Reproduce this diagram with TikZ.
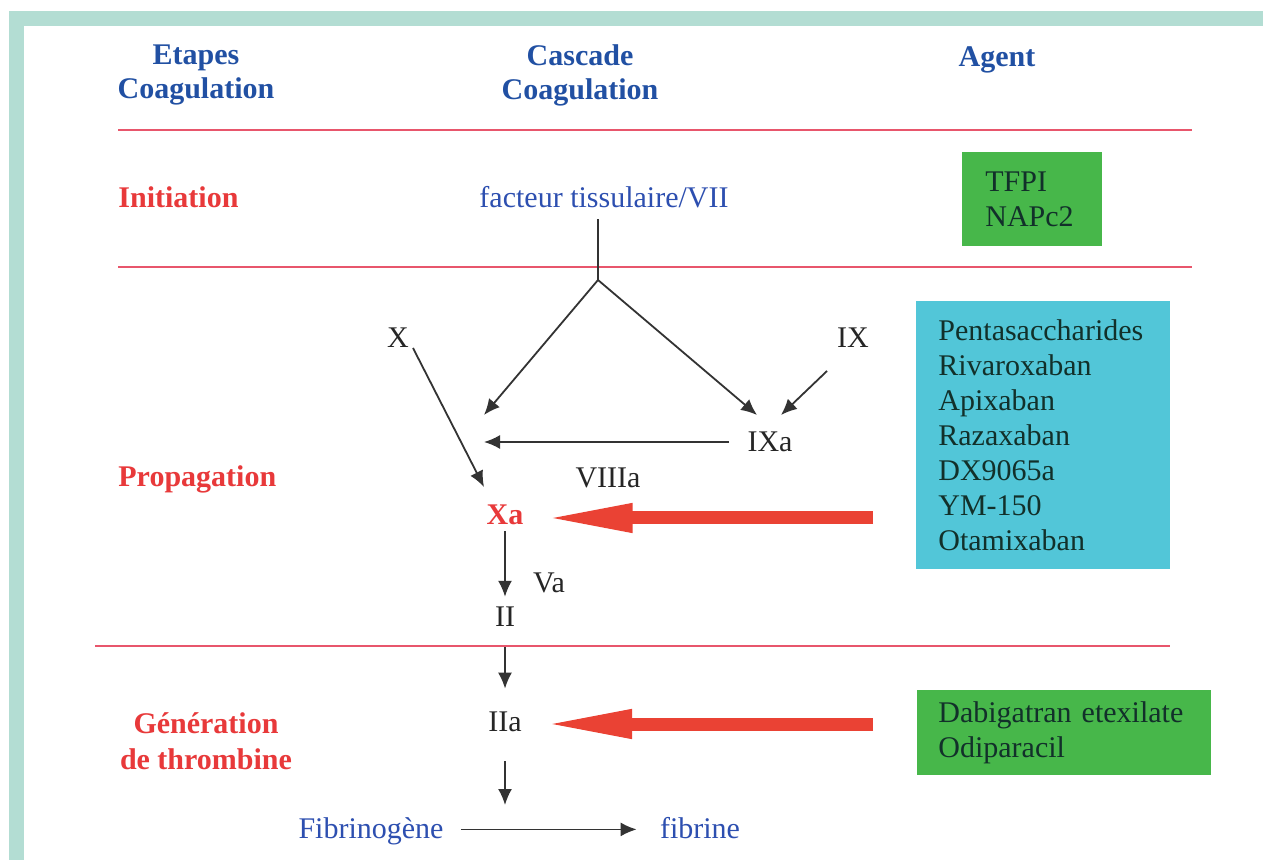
\documentclass[tikz,border=0pt]{standalone}
\usepackage{fontspec}
\setmainfont{Liberation Serif}
\usetikzlibrary{arrows.meta,positioning}

\definecolor{frameteal}{HTML}{B3DDD3}
\definecolor{headblue}{HTML}{2150A3}
\definecolor{txtblue}{HTML}{2D4FB0}
\definecolor{stepred}{HTML}{E8393A}
\definecolor{rulered}{HTML}{E8566C}
\definecolor{boxgreen}{HTML}{47B74A}
\definecolor{boxcyan}{HTML}{52C6D8}
\definecolor{boxtext}{HTML}{12302A}
\definecolor{bigred}{HTML}{EA4234}

\begin{document}
\begin{tikzpicture}[x=0.5pt,y=-0.5pt,
      every node/.style={inner sep=0pt,font=\fontsize{15}{17}\selectfont},
      colhead/.style={text=headblue,font=\fontsize{15}{17}\selectfont\bfseries,align=center},
      stage/.style={text=stepred,font=\fontsize{15}{18}\selectfont\bfseries},
      factor/.style={text=black!85},
      bluetxt/.style={text=txtblue},
      agentbox/.style={anchor=north west,text=boxtext,align=left,
          font=\fontsize{15}{17.5}\selectfont},
      rule/.style={rulered,line width=1pt},
      arr/.style={black!80,line width=0.9pt,-{Latex[length=8pt,width=7pt]}},
      conn/.style={black!80,line width=0.9pt},
      bigarrow/.style={bigred,line width=6.5pt,-{Triangle[length=45.5pt,width=13pt]}}]
    \useasboundingbox (0,0) rectangle (1263,860);

    % frame
    \fill[frameteal] (9,11) rectangle (1263,860);
    \fill[white] (24,26) rectangle (1263,860);

    % column heads
    \node[colhead] (etapes) at (196,75) {Etapes\\Coagulation};
    \node[colhead] (cascade) at (580,75) {Cascade\\Coagulation};
    \node[colhead] (agent) at (997,60) {Agent};

    \draw[rule] (118,130) -- (1192,130);
    \draw[rule] (118,267) -- (1192,267);
    \draw[rule] (95,646) -- (1170,646);

    % stages
    \node[stage,anchor=west] (initiation) at (118,197) {Initiation};
    \node[stage,anchor=west] (propagation) at (118,479) {Propagation};
    \node[stage,align=center] (generation) at (206,741) {Génération\\de thrombine};

    % cascade
    \node[bluetxt] (facteur) at (604,197) {facteur tissulaire/VII};
    \node[factor] (X) at (398,338) {X};
    \node[factor] (IX) at (853,338) {IX};
    \node[factor] (IXa) at (770,442) {IXa};
    \node[factor] (VIIIa) at (608,478) {VIIIa};
    \node[stage] (Xa) at (505,515) {Xa};
    \node[factor] (Va) at (549,583) {Va};
    \node[factor] (II) at (505,617) {II};
    \node[factor] (IIa) at (505,722) {IIa};
    \node[bluetxt,anchor=base] (fibrinogene) at (371,838) {Fibrinogène};
    \node[bluetxt,anchor=base] (fibrine) at (700,838) {fibrine};

    \coordinate (junction) at (598,280);
    \coordinate (lefttip) at (484,415);
    \coordinate (ixatip) at (757,415);
    \coordinate (ixstart) at (827,371);
    \coordinate (ixend) at (781,415);
    \coordinate (xtip) at (484,487);
    \coordinate (tenase) at (484,440);
    \coordinate (clot) at (505,805);

    \draw[conn] ([yshift=-5.5pt]junction |- facteur.south) -- (junction);
    \draw[arr] (junction) -- (lefttip);
    \draw[arr] (junction) -- (ixatip);
    \draw[arr] (ixstart) -- (ixend);
    \draw[arr] ([shift={(15,10)}]X.center) -- (xtip);
    \draw[arr,shorten <=9pt] (IXa.west) -- (IXa.west -| tenase);
    \draw[arr,shorten <=3pt,shorten >=5pt] (Xa) -- (II);
    \draw[arr,shorten <=10pt,shorten >=11.5pt] (II) -- (IIa);
    \draw[arr,shorten <=14.5pt] (IIa) -- (clot);
    \draw[arr,shorten <=8.5pt,shorten >=11.5pt] ([yshift=2pt]fibrinogene.mid east) -- ([yshift=2pt]fibrine.mid west);

    % agents
    \node[agentbox,fill=boxgreen,text width=47pt,inner xsep=11.5pt,
          minimum height=47pt] (tfpi) at (962,152) {TFPI\\NAPc2};
    \node[agentbox,fill=boxcyan,text width=105pt,inner xsep=11pt,
          minimum height=134pt] (antixabox) at (916,301)
          {Pentasaccharides\\Rivaroxaban\\Apixaban\\Razaxaban\\DX9065a\\YM-150\\Otamixaban};
    \node[agentbox,fill=boxgreen,text width=126pt,inner xsep=10.5pt,
          minimum height=42.5pt] (antiiiabox) at (917,690)
          {Dabigatran etexilate\\Odiparacil};

    \coordinate (antixa) at (873,518);
    \coordinate (antiiia) at (873,724);
    \draw[bigarrow,shorten >=9pt] (antixa) -- (antixa -| Xa.east);
    \draw[bigarrow,shorten >=9.5pt] (antiiia) -- (antiiia -| IIa.east);

\end{tikzpicture}
\end{document}
